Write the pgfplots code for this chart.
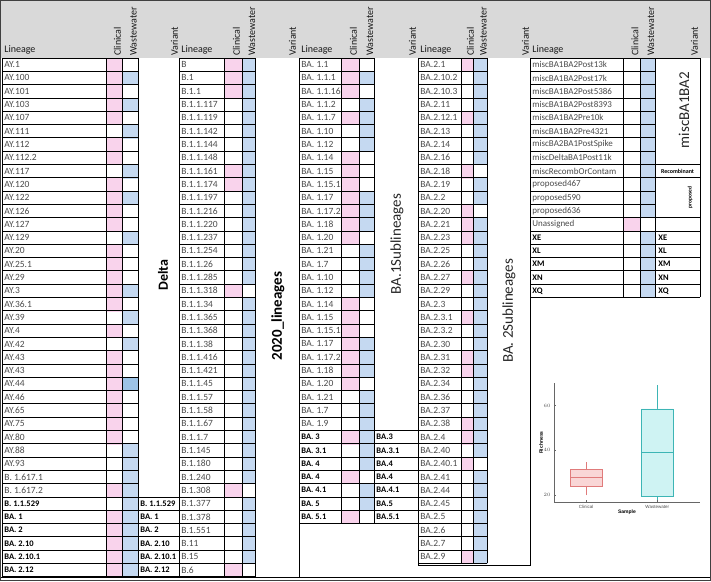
\documentclass[border=0pt]{standalone}
\usepackage{pgfplots}
\pgfplotsset{compat=1.18}
\usepackage{fontspec}
\setmainfont{Carlito}
\newfontfamily\arialf{Liberation Sans}
\definecolor{cpink}{HTML}{F9D3EC}
\definecolor{cblue}{HTML}{C5D9F1}
\definecolor{cblueD}{HTML}{9DC3E6}
\definecolor{hgrey}{HTML}{D9D9D9}
\definecolor{txtg}{HTML}{4A4A4A}
\definecolor{bxred}{HTML}{E07B7B}
\definecolor{bxpink}{HTML}{F9D6D6}
\definecolor{bxteal}{HTML}{3DB5B5}
\definecolor{bxcyan}{HTML}{CFF3F3}
\pgfplotsset{cell/.style 2 args={only marks, mark=square*, color=#1, mark size=6.65pt, mark options={xscale=#2}, y filter/.expression={64.65+13.3*y}}}
\newcommand\grp[5]{%
 \foreach \r in {0,...,#5}{\draw (#1,{58+13.3*\r}) -- (#4,{58+13.3*\r});}%
 \foreach \xx in {#1,#2,#3,#4}{\draw (\xx,58) -- (\xx,{58+13.3*#5});}%
}
\newcommand\names[4]{%
 \foreach \t [count=\i from #2] in {#4}{\node[anchor=west,inner sep=0pt,#3] at (#1,{58+13.3*(\i+0.5)}) {\t};}%
}
\tikzset{nrm/.style={font=\fontsize{9.5}{10}\selectfont, text=txtg},
 bld/.style={font=\bfseries\fontsize{8.5}{10}\selectfont, text=black},
 hdr/.style={font=\fontsize{10}{10}\selectfont, text=black!90}}
\begin{document}
\begin{tikzpicture}
\useasboundingbox (0,0) rectangle (711pt,-581pt);
\fill[hgrey] (0,-1pt) rectangle (711pt,-58pt);
\begin{axis}[name=main, at={(0,0)}, anchor=north west, scale only axis, width=711pt, height=581pt,
 xmin=0, xmax=711, ymin=0, ymax=581, y dir=reverse, hide axis, clip=false]
% Group 1
\addplot[cell={cpink}{1.203}] coordinates {(114,0)(114,1)(114,2)(114,3)(114,4)(114,6)(114,7)(114,9)(114,10)(114,11)(114,12)(114,14)(114,15)(114,16)(114,17)(114,18)(114,20)(114,22)(114,23)(114,24)(114,25)(114,26)(114,27)(114,28)(114,32)(114,34)(114,35)(114,36)(114,37)(114,38)};
\addplot[cell={cblue}{1.203}] coordinates {(130,1)(130,3)(130,5)(130,8)(130,10)(130,13)(130,17)(130,19)(130,21)(130,29)(130,30)(130,31)(130,32)(130,33)(130,34)(130,35)(130,36)(130,37)(130,38)};
\addplot[cell={cblueD}{1.203}] coordinates {(130,24)};
% Group 2
\addplot[cell={cpink}{1.353}] coordinates {(233,0)(233,1)(233,2)(233,8)(233,9)(233,17)(233,32)(233,38)};
\addplot[cell={cblue}{0.977}] coordinates {(248.5,0)(248.5,1)(248.5,2)(248.5,3)(248.5,4)(248.5,5)(248.5,6)(248.5,7)(248.5,8)(248.5,9)(248.5,10)(248.5,11)(248.5,12)(248.5,13)(248.5,14)(248.5,15)(248.5,16)(248.5,18)(248.5,19)(248.5,20)(248.5,21)(248.5,22)(248.5,23)(248.5,24)(248.5,25)(248.5,26)(248.5,27)(248.5,28)(248.5,29)(248.5,30)(248.5,31)(248.5,33)(248.5,34)(248.5,35)(248.5,36)(248.5,37)};
% Group 3
\addplot[cell={cpink}{1.353}] coordinates {(350,0)(350,1)(350,2)(350,4)(350,7)(350,8)(350,9)(350,10)(350,11)(350,12)(350,13)(350,18)(350,19)(350,20)(350,21)(350,22)(350,23)(350,24)(350,28)(350,31)(350,34)};
\addplot[cell={cblue}{1.128}] coordinates {(366.5,1)(366.5,3)(366.5,4)(366.5,5)(366.5,6)(366.5,10)(366.5,11)(366.5,12)(366.5,14)(366.5,15)(366.5,16)(366.5,17)(366.5,21)(366.5,22)(366.5,23)(366.5,25)(366.5,26)(366.5,27)(366.5,28)(366.5,29)(366.5,30)(366.5,32)(366.5,33)};
% Group 4
\addplot[cell={cpink}{0.902}] coordinates {(467,0)(467,4)(467,8)(467,11)(467,12)(467,13)(467,16)(467,19)(467,22)(467,23)(467,27)(467,28)(467,30)(467,37)};
\addplot[cell={cblue}{1.053}] coordinates {(480,0)(480,1)(480,2)(480,3)(480,4)(480,5)(480,6)(480,7)(480,9)(480,10)(480,12)(480,13)(480,14)(480,15)(480,16)(480,17)(480,18)(480,19)(480,20)(480,21)(480,22)(480,23)(480,24)(480,25)(480,26)(480,27)(480,28)(480,29)(480,31)(480,32)(480,33)(480,34)(480,35)(480,36)(480,37)};
% Group 5
\addplot[cell={cpink}{1.278}] coordinates {(631.5,12)};
\addplot[cell={cblue}{1.128}] coordinates {(647.5,0)(647.5,1)(647.5,2)(647.5,3)(647.5,4)(647.5,5)(647.5,6)(647.5,7)(647.5,8)(647.5,9)(647.5,10)(647.5,11)(647.5,13)(647.5,14)(647.5,15)(647.5,16)(647.5,17)};
\end{axis}

\begin{scope}[x=1pt,y=-1pt,line width=0.7pt]
\grp{2}{106}{122}{138}{39}
\grp{179}{224}{242}{255}{39}
\grp{299}{341}{359}{374}{35}
\grp{418}{461}{473}{487}{38}
\grp{530}{623}{640}{655}{18}
\foreach \r in {33,...,39}{\draw (138,{58+13.3*\r}) -- (179,{58+13.3*\r});}
\foreach \r in {28,...,35}{\draw (374,{58+13.3*\r}) -- (418,{58+13.3*\r});}
\foreach \r in {0,8,9,12,13,14,15,16,17,18}{\draw (655,{58+13.3*\r}) -- (700,{58+13.3*\r});}
\draw (700,58) -- (700,297.4);
\draw (2,58) -- (2,578);
\draw (179,58) -- (179,578);
\draw (299,58) -- (299,578);
\draw (418,58) -- (418,565) -- (530,565) -- (530,58);
\draw[line width=0.6pt] (0,577.6) -- (711,577.6);
\draw[line width=0.6pt] (0,580) -- (711,580);
\draw[line width=0.8pt,black!75] (0.5,0.8) rectangle (710,580.5);

% headers
\foreach \x in {4,181,301,420,532}{\node[anchor=south west,inner sep=0pt,hdr] at (\x,55) {Lineage};}
\foreach \x in {114,233,350,467,631.5}{\node[rotate=90,anchor=west,inner sep=0pt,hdr] at (\x+3.5,56) {Clinical};}
\foreach \x in {130,248.5,366.5,480,647.5}{\node[rotate=90,anchor=west,inner sep=0pt,hdr] at (\x+3.5,56) {Wastewater};}
\foreach \x in {171,289,409,522,691}{\node[rotate=90,anchor=west,inner sep=0pt,hdr] at (\x+3.5,56) {Variant};}

% names group 1
\names{4}{0}{nrm}{AY.1,AY.100,AY.101,AY.103,AY.107,AY.111,AY.112,AY.112.2,AY.117,AY.120,AY.122,AY.126,AY.127,AY.129,AY.20,AY.25.1,AY.29,AY.3,AY.36.1,AY.39,AY.4,AY.42,AY.43,AY.43,AY.44,AY.46,AY.65,AY.75,AY.80,AY.88,AY.93,B. 1.617.1,B. 1.617.2}
\names{4}{33}{bld}{B. 1.1.529,BA. 1,BA. 2,BA. 2.10,BA. 2.10.1,BA. 2.12}
\names{140}{33}{bld}{B. 1.1.529,BA. 1,BA. 2,BA. 2.10,BA. 2.10.1,BA. 2.12}
% group 2
\names{181}{0}{nrm}{B,B.1,B.1.1,B.1.1.117,B.1.1.119,B.1.1.142,B.1.1.144,B.1.1.148,B.1.1.161,B.1.1.174,B.1.1.197,B.1.1.216,B.1.1.220,B.1.1.237,B.1.1.254,B.1.1.26,B.1.1.285,B.1.1.318,B.1.1.34,B.1.1.365,B.1.1.368,B.1.1.38,B.1.1.416,B.1.1.421,B.1.1.45,B.1.1.57,B.1.1.58,B.1.1.67,B.1.1.7,B.1.145,B.1.180,B.1.240,B.1.308,B.1.377,B.1.378,B.1.551,B.11,B.15,B.6}
% group 3
\names{301}{0}{nrm}{BA. 1.1,BA. 1.1.1,BA. 1.1.16,BA. 1.1.2,BA. 1.1.7,BA. 1.10,BA. 1.12,BA. 1.14,BA. 1.15,BA. 1.15.1,BA. 1.17,BA. 1.17.2,BA. 1.18,BA. 1.20,BA. 1.21,BA. 1.7,BA. 1.10,BA. 1.12,BA. 1.14,BA. 1.15,BA. 1.15.1,BA. 1.17,BA. 1.17.2,BA. 1.18,BA. 1.20,BA. 1.21,BA. 1.7,BA. 1.9}
\names{301}{28}{bld}{BA. 3,BA. 3.1,BA. 4,BA. 4,BA. 4.1,BA. 5,BA. 5.1}
\names{376}{28}{bld}{BA.3,BA.3.1,BA.4,BA.4,BA.4.1,BA.5,BA.5.1}
% group 4
\names{420}{0}{nrm}{BA.2.1,BA.2.10.2,BA.2.10.3,BA.2.11,BA.2.12.1,BA.2.13,BA.2.14,BA.2.16,BA.2.18,BA.2.19,BA.2.2,BA.2.20,BA.2.21,BA.2.23,BA.2.25,BA.2.26,BA.2.27,BA.2.29,BA.2.3,BA.2.3.1,BA.2.3.2,BA.2.30,BA.2.31,BA.2.32,BA.2.34,BA.2.36,BA.2.37,BA.2.38,BA.2.4,BA.2.40,BA.2.40.1,BA.2.41,BA.2.44,BA.2.45,BA.2.5,BA.2.6,BA.2.7,BA.2.9}
% group 5
\names{532}{0}{nrm,font=\fontsize{9}{10}\selectfont}{miscBA1BA2Post13k,miscBA1BA2Post17k,miscBA1BA2Post5386,miscBA1BA2Post8393,miscBA1BA2Pre10k,miscBA1BA2Pre4321,miscBA2BA1PostSpike,miscDeltaBA1Post11k,miscRecombOrContam,proposed467,proposed590,proposed636,Unassigned}
\names{532}{13}{bld}{XE,XL,XM,XN,XQ}
\names{658}{13}{bld}{XE,XL,XM,XN,XQ}

% big variant labels
\node[rotate=90,font=\bfseries\fontsize{14}{14}\selectfont] at (163,275) {Delta};
\node[rotate=90,font=\bfseries\fontsize{15}{15}\selectfont] at (278,316) {2020\_lineages};
\node[rotate=90,font=\fontsize{15}{15}\selectfont,text=black!85] at (397,244) {BA.1Sublineages};
\node[rotate=90,font=\fontsize{15}{15}\selectfont,text=black!85] at (509,311) {BA. 2Sublineages};
\node[rotate=90,font=\fontsize{15}{15}\selectfont,text=black!85] at (684,110) {miscBA1BA2};
\node[font=\bfseries\fontsize{6}{6}\selectfont] at (677.5,171) {Recombinant};
\node[rotate=90,font=\bfseries\fontsize{5.5}{6}\selectfont] at (690,197.7) {proposed};
\end{scope}

% inset boxplot (drawn from its five numbers)
\begin{axis}[at={(554pt,-502pt)}, anchor=south west, scale only axis, width=146pt, height=119pt,
 xmin=0.55, xmax=2.6, ymin=17, ymax=70,
 axis x line*=bottom, axis y line*=left, axis line style={black!60, line width=0.4pt},
 xtick={1,2}, xticklabels={Clinical,Wastewater}, ytick={20,40,60},
 tick style={black!60}, major tick length=2pt,
 tick label style={font=\arialf\fontsize{4.5}{5}\selectfont, text=black!70},
 xlabel={Sample}, ylabel={Richness},
 label style={font=\arialf\bfseries\fontsize{5}{5}\selectfont},
 xlabel style={yshift=6pt}, ylabel style={yshift=-6pt}]
% Clinical
\addplot[draw=bxred, line width=0.5pt] coordinates {(1,20)(1,24)};
\addplot[draw=bxred, line width=0.5pt] coordinates {(1,31.5)(1,35)};
\addplot[draw=bxred, fill=bxpink, line width=0.5pt] coordinates {(0.775,24)(1.225,24)(1.225,31.5)(0.775,31.5)(0.775,24)};
\addplot[draw=bxred, line width=0.8pt] coordinates {(0.775,28)(1.225,28)};
% Wastewater
\addplot[draw=bxteal, line width=0.5pt] coordinates {(2,18)(2,19.5)};
\addplot[draw=bxteal, line width=0.5pt] coordinates {(2,58.5)(2,69)};
\addplot[draw=bxteal, fill=bxcyan, line width=0.5pt] coordinates {(1.775,19.5)(2.225,19.5)(2.225,58.5)(1.775,58.5)(1.775,19.5)};
\addplot[draw=bxteal, line width=0.8pt] coordinates {(1.775,39)(2.225,39)};
\end{axis}
\end{tikzpicture}
\end{document}
